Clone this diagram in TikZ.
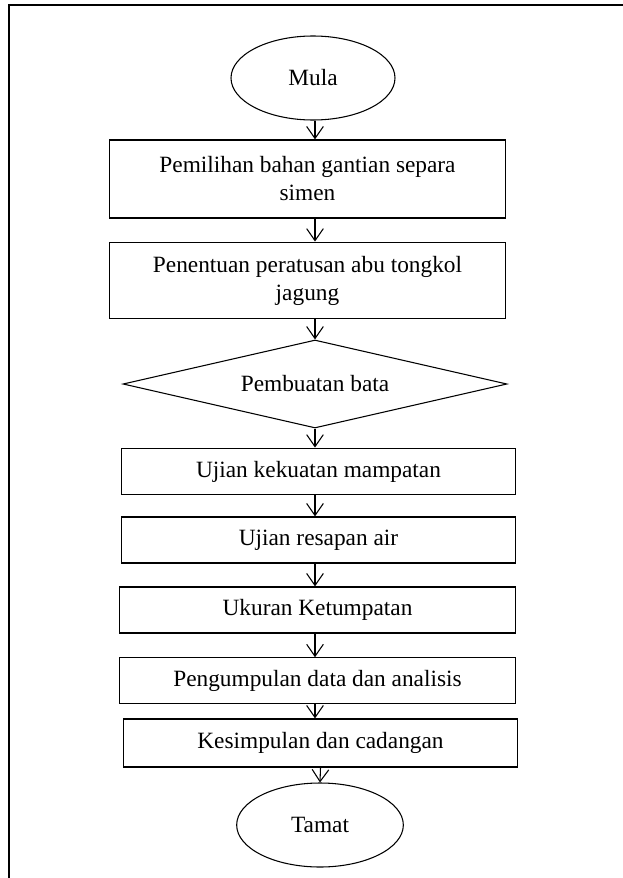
\documentclass[tikz,border=0pt]{standalone}
\usepackage{fontspec}
\setmainfont{Liberation Serif}
\usepackage{tikz}
\usetikzlibrary{shapes.geometric, arrows.meta, positioning, calc}
\tikzset{
    terminal/.style={ellipse, draw=black, line width=0.8pt, minimum width=123pt, minimum height=63pt, inner sep=0pt, align=center},
    process/.style={rectangle, draw=black, line width=0.9pt, minimum width=297pt, align=center, inner sep=0pt},
    decision/.style={diamond, draw=black, line width=0.8pt, aspect=4.4, minimum width=288pt, minimum height=66pt, inner sep=0pt, align=center},
    arrow/.style={line width=0.8pt, -{Straight Barb[length=9pt, width=12.5pt, line width=0.8pt]}},
    frame/.style={line width=2.2pt, line cap=rect}
}

\begin{document}
\begin{tikzpicture}[x=0.75pt, y=-0.75pt, font=\fontsize{17.5}{21}\selectfont]
        \useasboundingbox (0,0) rectangle (622,878);
        % outer frame (only top and left edges show)
        \draw[frame] (9,878) -- (9,5) -- (622,5);

        % start and end
        \node[terminal] (mula) at (313, 78) {Mula};
        \node[terminal, minimum width=125pt] (tamat) at (320, 825) {Tamat};

        % steps
        \node[process, minimum height=58.5pt] (pilih) at (307.5, 179) {Pemilihan bahan gantian separa\\simen};
        \node[process, minimum height=57.5pt] (tentu) at (307.5, 280.5) {Penentuan peratusan abu tongkol\\jagung};
        \node[decision] (bata) at (315, 384) {Pembuatan bata};
        \node[process, minimum width=296pt, minimum height=35pt] (kuat) at (318.5, 471.5) {Ujian kekuatan mampatan};
        \node[process, minimum width=296pt, minimum height=34.5pt] (resap) at (318.5, 540) {Ujian resapan air};
        \node[process, minimum height=34.5pt] (ukur) at (317.5, 610) {Ukuran Ketumpatan};
        \node[process, minimum height=34pt] (kumpul) at (317.5, 680.5) {Pengumpulan data dan analisis};
        \node[process, minimum width=296pt, minimum height=36pt] (simpul) at (320.5, 743) {Kesimpulan dan cadangan};

        % arrows between steps
        \coordinate (axis) at (315, 0);
        \draw[arrow] (mula.south -| axis) -- (pilih.north -| axis);
        \draw[arrow] (pilih.south -| axis) -- (tentu.north -| axis);
        \draw[arrow] (tentu.south -| axis) -- (bata.north -| axis);
        \draw[arrow] (bata.south -| axis) -- (kuat.north -| axis);
        \draw[arrow] (kuat.south -| axis) -- (resap.north -| axis);
        \draw[arrow] (resap.south -| axis) -- (ukur.north -| axis);
        \draw[arrow] (ukur.south -| axis) -- (kumpul.north -| axis);
        \draw[arrow] (kumpul.south -| axis) -- (simpul.north -| axis);
        \draw[arrow] (simpul.south) -- (tamat.north);
    \end{tikzpicture}
\end{document}
